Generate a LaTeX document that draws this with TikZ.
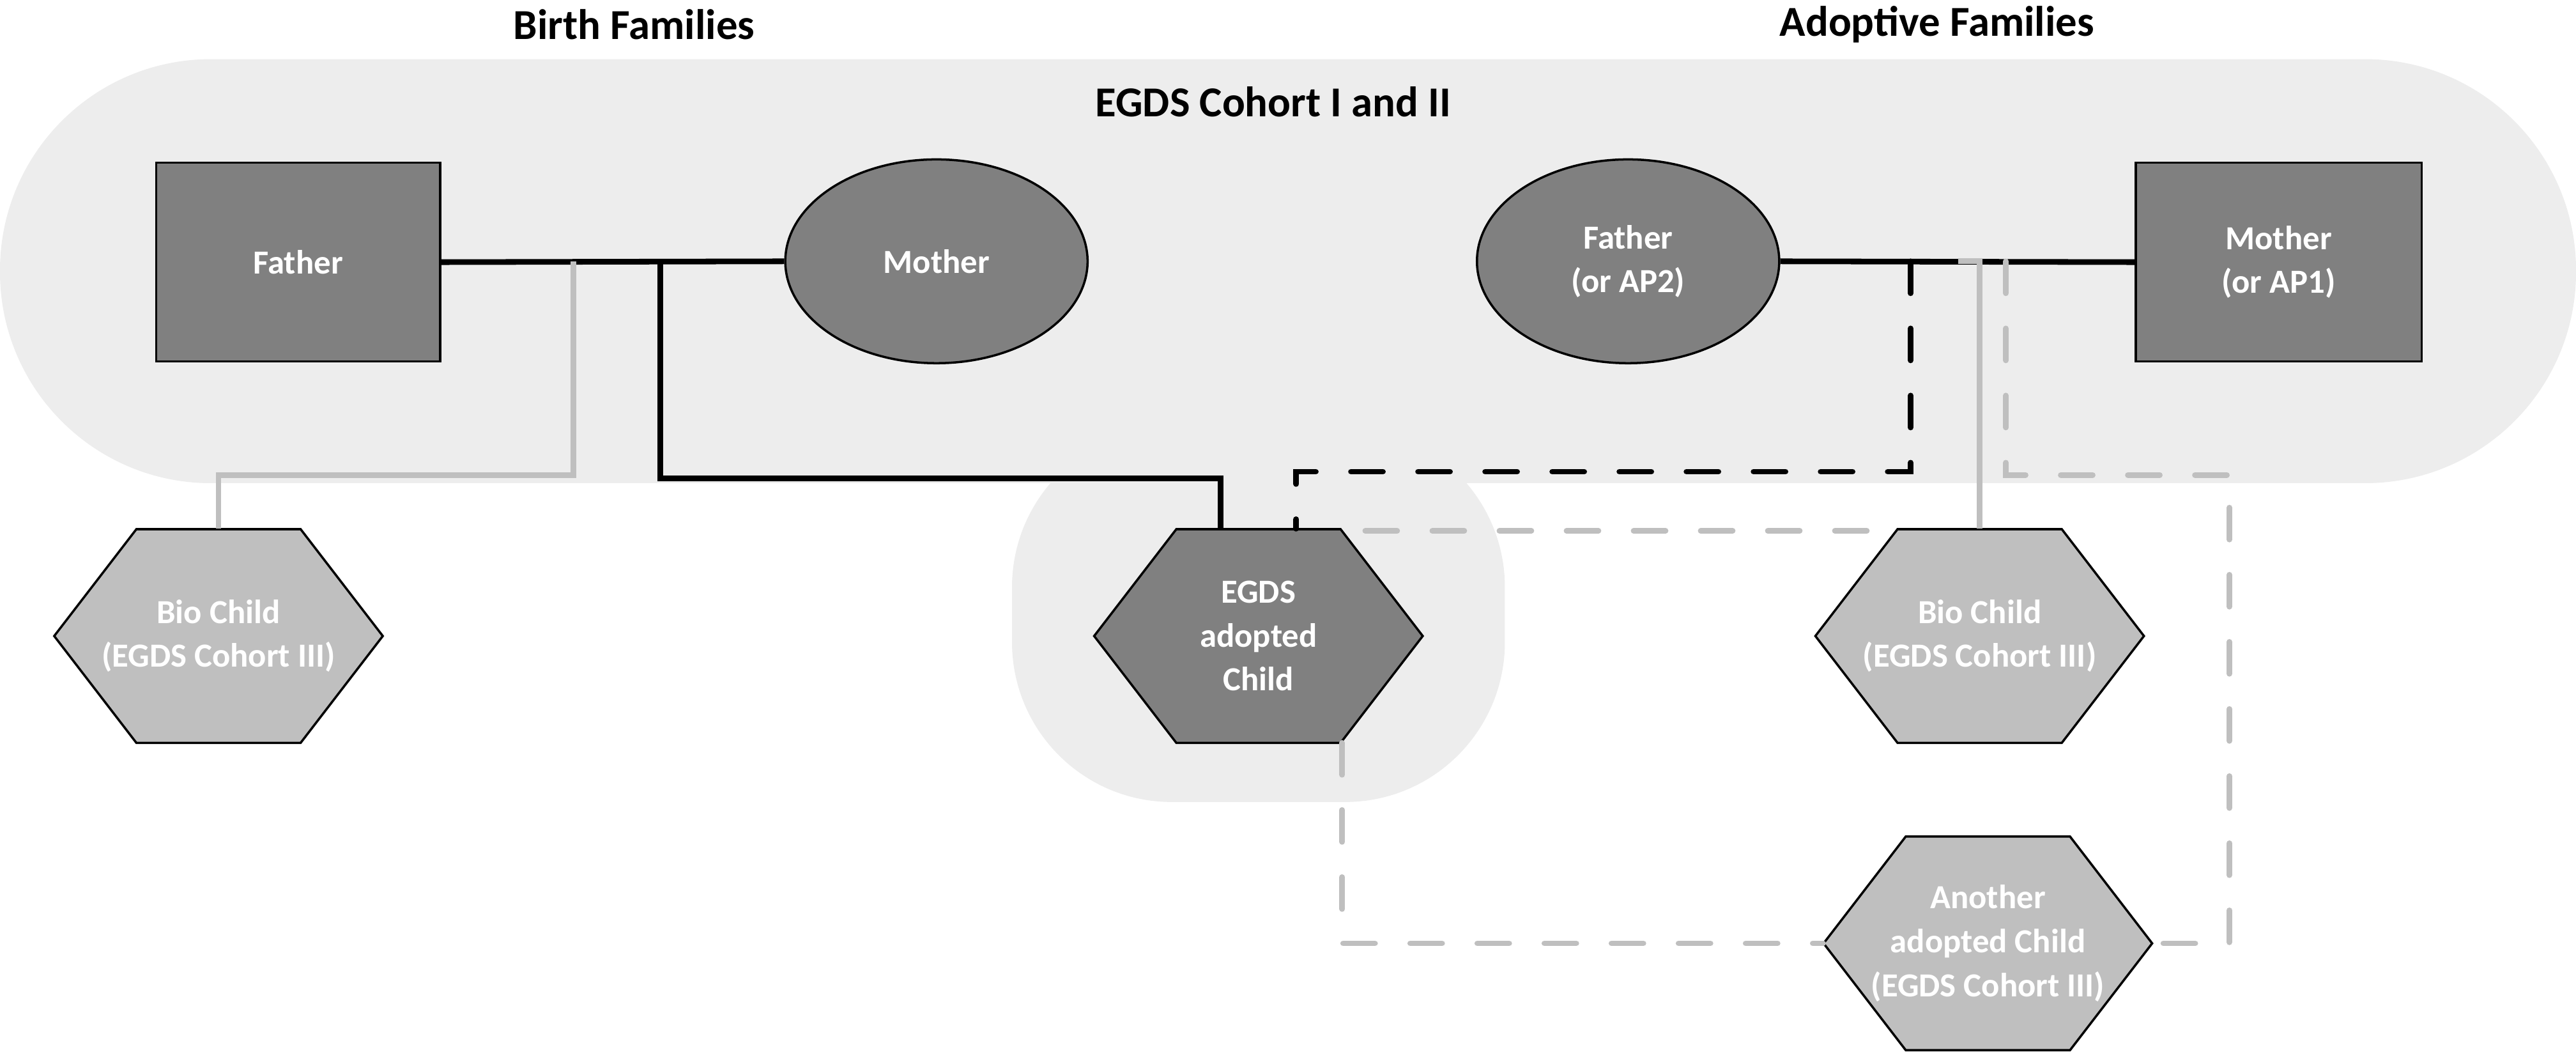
\documentclass[tikz,border=0pt]{standalone}
\usepackage{fontspec}
\setmainfont{Carlito}
\usetikzlibrary{shapes.geometric}
\begin{document}
\begin{tikzpicture}[x=0.025714cm,y=-0.025714cm,
  region/.style={fill=black!7,draw=none},
  dk/.style={fill=black!50,draw=black,line width=1pt},
  lt/.style={fill=black!25,draw=black,line width=1pt},
  lbl/.style={text=white,font=\bfseries\fontsize{15}{19.5}\selectfont,align=center},
  ttl/.style={font=\bfseries\fontsize{19}{23}\selectfont},
  bl/.style={line width=2.5pt,black},
  gr/.style={line width=2.5pt,black!25},
  dsh/.style={dash pattern=on 0.5cm off 0.55cm,line cap=round}]
\useasboundingbox (0,0) rectangle (1568,640);
% regions
\fill[region,rounded corners=2.5cm] (616,260) rectangle (916,488);
\fill[region,rounded corners=3.3cm] (0,36) rectangle (1568,294);
% titles
\node[ttl] (tb) at (386,15) {Birth Families};
\node[ttl] (ta) at (1179,15) {Adoptive Families};
\node[ttl] (tc) at (775,62) {EGDS Cohort I and II};
% parents
\node[dk,minimum width=173*0.025714cm,minimum height=121*0.025714cm] (bf) at (181.5,159.5) {};
\node[lbl] at (bf) {Father};
\node[dk,ellipse,minimum width=184*0.025714cm,minimum height=124*0.025714cm,inner sep=0pt] (bm) at (570,159) {};
\node[lbl] at (bm) {Mother};
\node[dk,ellipse,minimum width=184*0.025714cm,minimum height=124*0.025714cm,inner sep=0pt] (af) at (991,159) {};
\node[lbl] at (af) {Father\\(or AP2)};
\node[dk,minimum width=174*0.025714cm,minimum height=121*0.025714cm] (am) at (1387,159.5) {};
\node[lbl] at (am) {Mother\\(or AP1)};
% hexagons
\newcommand{\hexa}[5]{%
  \path[#4] (#2-100,#3) -- (#2-50,#3-65) -- (#2+50,#3-65) -- (#2+100,#3) -- (#2+50,#3+65) -- (#2-50,#3+65) -- cycle;
  \node[lbl,minimum width=200*0.025714cm,minimum height=130*0.025714cm] (#1) at (#2,#3) {#5};}
\hexa{bc1}{133}{387}{lt}{Bio Child\\(EGDS Cohort III)}
\hexa{ec}{766}{387}{dk}{EGDS\\adopted\\Child}
\hexa{bc2}{1205}{387}{lt}{Bio Child\\(EGDS Cohort III)}
\hexa{ac}{1210}{574}{lt}{Another\\adopted Child\\(EGDS Cohort III)}
% connectors
\draw[bl] (bf.east) -- (bm.west);
\draw[bl] (af.east) -- (am.west);
\draw[gr] (349,159) |- (133,289) -- (bc1.north);
\draw[bl] (402,159) |- (743,291) -- (ec.north -| 743,0);
\draw[bl,dsh] (1163,159) |- (789,287) -- (ec.north -| 789,0);
\draw[gr] (1192,159) -| (bc2.north);
\draw[gr,dsh] (1221,159) |- (1357,289) |- (ac.east);
\draw[gr,dsh] (831,323) -- (1155,323);
\draw[gr,dsh] (817,452) |- (ac.west);
\end{tikzpicture}
\end{document}
